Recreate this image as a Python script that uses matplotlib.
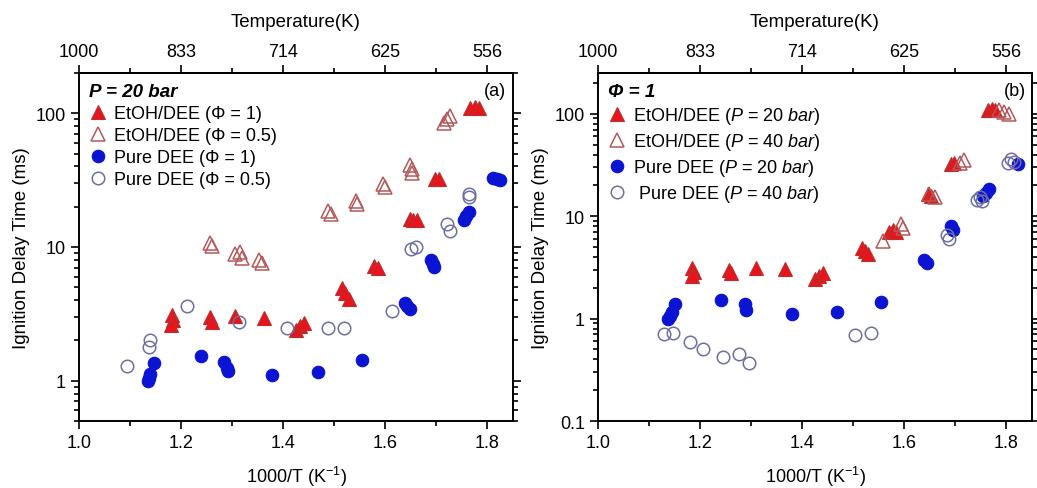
import matplotlib
matplotlib.use("Agg")
import matplotlib.pyplot as plt
from matplotlib.ticker import FixedLocator, LogLocator, NullFormatter, FixedFormatter

plt.rcParams["font.family"] = ["Liberation Sans", "DejaVu Sans"]
plt.rcParams["mathtext.fontset"] = "custom"
plt.rcParams["mathtext.rm"] = "Liberation Sans"
plt.rcParams["mathtext.it"] = "Liberation Sans:italic"

# (a) P = 20 bar, EtOH/DEE vs pure DEE at two equivalence ratios
a_etoh_phi1_x = [1.182, 1.185, 1.180, 1.257, 1.260, 1.305, 1.363, 1.425, 1.432, 1.440,
                 1.515, 1.520, 1.528, 1.578, 1.585, 1.648, 1.655, 1.662, 1.697, 1.705,
                 1.765, 1.775, 1.783]
a_etoh_phi1_y = [3.1, 2.85, 2.6, 3.0, 2.75, 3.05, 2.95, 2.4, 2.55, 2.7,
                 4.9, 4.5, 4.1, 7.2, 7.0, 16.3, 16.0, 16.0, 32.5, 32.0,
                 110, 112, 110]
a_etoh_phi05_x = [1.257, 1.260, 1.305, 1.315, 1.320, 1.353, 1.358, 1.488, 1.493, 1.543,
                  1.545, 1.595, 1.600, 1.649, 1.652, 1.652, 1.714, 1.720, 1.726]
a_etoh_phi05_y = [10.8, 10.2, 8.8, 9.2, 8.3, 8.0, 7.6, 18.5, 17.8, 22.0,
                  21.0, 29.5, 28.0, 41.0, 38.0, 36.0, 84, 90, 95]
a_dee_phi1_x = [1.146, 1.140, 1.138, 1.135, 1.238, 1.284, 1.289, 1.291, 1.378, 1.468,
                1.555, 1.638, 1.643, 1.648, 1.690, 1.693, 1.695, 1.754, 1.758, 1.763,
                1.810, 1.818, 1.824]
a_dee_phi1_y = [1.36, 1.12, 1.05, 1.0, 1.52, 1.38, 1.25, 1.18, 1.10, 1.17,
                1.44, 3.8, 3.6, 3.45, 8.0, 7.5, 7.1, 15.8, 17.0, 18.3,
                33.0, 32.5, 31.8]
a_dee_phi05_x = [1.093, 1.140, 1.137, 1.212, 1.314, 1.408, 1.488, 1.519, 1.613, 1.650,
                 1.660, 1.720, 1.726, 1.763, 1.764]
a_dee_phi05_y = [1.30, 2.0, 1.8, 3.63, 2.74, 2.5, 2.5, 2.5, 3.32, 9.7,
                 10.0, 14.8, 13.2, 25.0, 23.5]

# (b) phi = 1, EtOH/DEE vs pure DEE at 20 and 40 bar
b_etoh_p20_x = [1.185, 1.188, 1.185, 1.257, 1.260, 1.309, 1.366, 1.425, 1.432, 1.440,
                1.517, 1.522, 1.528, 1.570, 1.578, 1.584, 1.647, 1.652, 1.692, 1.698,
                1.763, 1.772, 1.778]
b_etoh_p20_y = [3.1, 2.85, 2.6, 3.0, 2.8, 3.1, 3.05, 2.45, 2.6, 2.8,
                4.9, 4.6, 4.3, 7.0, 7.4, 7.0, 16.3, 15.8, 32.0, 33.0,
                110, 112, 110]
b_etoh_p40_x = [1.558, 1.593, 1.598, 1.648, 1.660, 1.708, 1.716, 1.785, 1.795, 1.804]
b_etoh_p40_y = [5.67, 8.3, 7.7, 16.5, 15.5, 33.0, 35.0, 108, 103, 100]
b_dee_p20_x = [1.150, 1.144, 1.140, 1.137, 1.240, 1.287, 1.290, 1.379, 1.468, 1.555,
               1.638, 1.645, 1.692, 1.695, 1.754, 1.760, 1.765, 1.822]
b_dee_p20_y = [1.38, 1.15, 1.05, 1.0, 1.52, 1.40, 1.20, 1.11, 1.15, 1.46,
               3.7, 3.5, 8.0, 7.3, 15.8, 17.0, 18.3, 32.0]
b_dee_p40_x = [1.129, 1.147, 1.181, 1.206, 1.244, 1.277, 1.296, 1.503, 1.534, 1.683,
               1.688, 1.742, 1.748, 1.752, 1.802, 1.808, 1.815]
b_dee_p40_y = [0.71, 0.72, 0.59, 0.51, 0.42, 0.45, 0.37, 0.686, 0.72, 6.5,
               6.0, 14.5, 15.5, 14.0, 33.0, 36.0, 34.0]

inv_t_ticks = [1.0, 1.2, 1.4, 1.6, 1.8]
temp_labels = ["1000", "833", "714", "625", "556"]

RED = "#e8141c"
RED_EDGE = "#b8302f"
RED_OPEN = "#b5585a"
BLUE = "#0a14d2"
SLATE = "#6f6f9e"


def style_axes(ax, ylim, yticks, ylabels):
    ax.set_xlim(1.0, 1.85)
    ax.set_yscale("log")
    ax.set_ylim(*ylim)
    ax.xaxis.set_major_locator(FixedLocator(inv_t_ticks))
    ax.xaxis.set_minor_locator(FixedLocator([1.1, 1.3, 1.5, 1.7]))
    ax.set_xticklabels([f"{v:.1f}" for v in inv_t_ticks])
    ax.yaxis.set_major_locator(FixedLocator(yticks))
    ax.yaxis.set_major_formatter(FixedFormatter(ylabels))
    ax.yaxis.set_minor_locator(LogLocator(base=10, subs=range(2, 10)))
    ax.yaxis.set_minor_formatter(NullFormatter())
    ax.tick_params(which="both", direction="out", right=True, labelsize=13, width=1.2)
    ax.tick_params(which="major", length=6)
    ax.tick_params(which="minor", length=3.5)
    for sp in ax.spines.values():
        sp.set_linewidth(1.4)
    ax.set_xlabel("1000/T (K$^{-1}$)", fontsize=13, labelpad=9)
    ax.set_ylabel("Ignition Delay Time (ms)", fontsize=13.5, labelpad=4)

    top = ax.secondary_xaxis("top")
    top.xaxis.set_major_locator(FixedLocator(inv_t_ticks))
    top.xaxis.set_minor_locator(FixedLocator([1.1, 1.3, 1.5, 1.7]))
    top.set_xticklabels(temp_labels)
    top.tick_params(which="both", direction="out", labelsize=13, width=1.2)
    top.tick_params(which="major", length=6)
    top.tick_params(which="minor", length=3.5)
    top.spines["top"].set_linewidth(1.4)
    top.set_xlabel("Temperature(K)", fontsize=13.5, labelpad=12)


def draw_series(ax, xs, ys, kind, label):
    if kind == "tri_fill":
        ax.plot(xs, ys, "^", ms=10, mfc=RED, mec=RED_EDGE, mew=0.8, ls="none", label=label)
    elif kind == "tri_open":
        ax.plot(xs, ys, "^", ms=10, mfc="none", mec=RED_OPEN, mew=1.1, ls="none", label=label)
    elif kind == "circ_fill":
        ax.plot(xs, ys, "o", ms=9, mfc=BLUE, mec=BLUE, mew=0.8, ls="none", label=label)
    else:
        ax.plot(xs, ys, "o", ms=9, mfc="none", mec=SLATE, mew=1.1, ls="none", label=label)


fig = plt.figure(figsize=(10.37, 4.89), dpi=100)
ax_a = fig.add_axes([0.0762, 0.137, 0.4185, 0.7117])
ax_b = fig.add_axes([0.5767, 0.137, 0.4185, 0.7117])

draw_series(ax_a, a_etoh_phi1_x, a_etoh_phi1_y, "tri_fill", "EtOH/DEE (Φ = 1)")
draw_series(ax_a, a_etoh_phi05_x, a_etoh_phi05_y, "tri_open", "EtOH/DEE (Φ = 0.5)")
draw_series(ax_a, a_dee_phi1_x, a_dee_phi1_y, "circ_fill", "Pure DEE (Φ = 1)")
draw_series(ax_a, a_dee_phi05_x, a_dee_phi05_y, "circ_open", "Pure DEE (Φ = 0.5)")
style_axes(ax_a, (0.5, 200), [1, 10, 100], ["1", "10", "100"])

draw_series(ax_b, b_etoh_p20_x, b_etoh_p20_y, "tri_fill", r"EtOH/DEE ($\mathit{P}$ = 20 $\mathit{bar}$)")
draw_series(ax_b, b_etoh_p40_x, b_etoh_p40_y, "tri_open", r"EtOH/DEE ($\mathit{P}$ = 40 $\mathit{bar}$)")
draw_series(ax_b, b_dee_p20_x, b_dee_p20_y, "circ_fill", r"Pure DEE ($\mathit{P}$ = 20 $\mathit{bar}$)")
draw_series(ax_b, b_dee_p40_x, b_dee_p40_y, "circ_open", r" Pure DEE ($\mathit{P}$ = 40 $\mathit{bar}$)")
style_axes(ax_b, (0.1, 250), [0.1, 1, 10, 100], ["0.1", "1", "10", "100"])

for ax, title, tag in [(ax_a, "P = 20 bar", "(a)"), (ax_b, "Φ = 1", "(b)")]:
    leg = ax.legend(loc="upper left", frameon=False, fontsize=13, title=title,
                    title_fontproperties={"weight": "bold", "style": "italic", "size": 13.5},
                    handletextpad=0.4, handlelength=1.0, labelspacing=0.28,
                    borderaxespad=0.2, borderpad=0.35)
    leg._legend_box.align = "left"
    ax.text(0.985, 0.975, tag, transform=ax.transAxes, ha="right", va="top", fontsize=13)

fig.savefig("out.png", dpi=100)
